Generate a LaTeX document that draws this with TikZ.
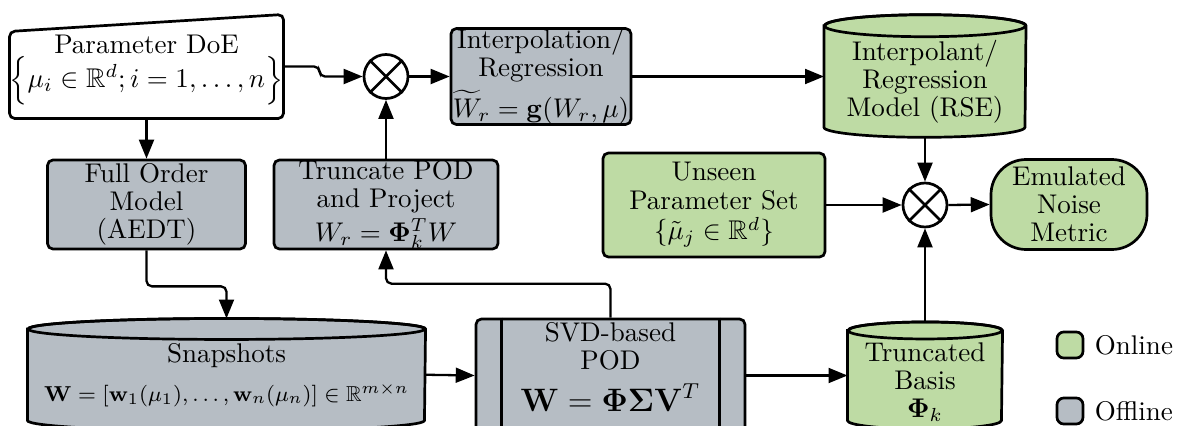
\documentclass[tikz,border=0pt]{standalone}
\usepackage{amsmath,amssymb}
\usetikzlibrary{arrows.meta,calc}
\definecolor{onl}{RGB}{190,219,164}
\definecolor{offl}{RGB}{182,189,196}
\newcommand\pxl{0.37pt}
\begin{document}
\begin{tikzpicture}[x=0.37pt,y=-0.37pt,
  every node/.style={font=\fontsize{10}{10.4}\selectfont},
  boxs/.style={draw, line width=1pt, rounded corners=2pt, inner sep=0pt, align=center},
  offbox/.style={boxs, fill=offl},
  onbox/.style={boxs, fill=onl},
  arr/.style={-{Triangle[length=7pt,width=5.5pt]}, line width=0.85pt, rounded corners=2pt},
  xnode/.style={draw, circle, line width=1pt, minimum size=44*\pxl, inner sep=0pt, fill=white},
  cyl/.style={line width=1pt},
  txt/.style={align=center, inner sep=0pt}
]
\useasboundingbox (0,0) rectangle (1177,426);

% Parameter DoE (manual input shape)
\node[inner sep=0pt, minimum width=273*\pxl, minimum height=103*\pxl] (doe) at (146.5,66.5) {};
\draw[line width=1pt, rounded corners=2pt, fill=white] (doe.south west) -- ($(doe.north west)+(0,17)$) -- (doe.north east) -- (doe.south east) -- cycle;
\node[txt] (doet) at (146.5,70) {Parameter DoE\\$\Bigl\{\mu_i\in\mathbb{R}^d; i=1,\ldots,n\Bigr\}$};

% Offline boxes
\node[offbox, minimum width=198*\pxl, minimum height=89*\pxl] (fom) at (146.5,204.5) {Full Order\\Model\\(AEDT)};
\node[offbox, minimum width=224*\pxl, minimum height=89*\pxl] (trunc) at (386,204.5) {Truncate POD\\and Project\\[1pt]$W_r=\mathbf{\Phi}_k^T W$};
\node[offbox, minimum width=180*\pxl, minimum height=96*\pxl] (interp) at (541,76.5) {Interpolation/\\Regression\\[2pt]$\widetilde{W}_r=\mathbf{g}(W_r,\mu)$};

% cross 1
\node[xnode] (c1) at (386,76.5) {};
\draw[line width=1pt] (c1.north west) -- (c1.south east) (c1.north east) -- (c1.south west);

% Interpolant cylinder
\node[inner sep=0pt, minimum width=201*\pxl, minimum height=100.5*\pxl] (icyl) at (925,76.5) {};
\draw[cyl, fill=onl] (icyl.north west) -- (icyl.south west) arc[start angle=180, end angle=0, x radius=100.5, y radius=10] -- (icyl.north east) arc[start angle=360, end angle=180, x radius=100.5, y radius=11] -- cycle;
\draw[cyl] (icyl.north) ellipse [x radius=100.5, y radius=11];
\node[txt] (icylt) at (925,82) {Interpolant/\\Regression\\Model (RSE)};
\coordinate (icylbot) at ($(icyl.south)+(0,10)$);

% Online boxes
\node[onbox, minimum width=222*\pxl, minimum height=104*\pxl] (unseen) at (714,205) {Unseen\\Parameter Set\\[1pt]$\{\tilde{\mu}_j\in\mathbb{R}^d\}$};
\node[onbox, rounded corners=13pt, minimum width=156*\pxl, minimum height=90*\pxl] (emu) at (1069,204.5) {Emulated\\Noise\\Metric};

% cross 2
\node[xnode] (c2) at (925,205) {};
\draw[line width=1pt] (c2.north west) -- (c2.south east) (c2.north east) -- (c2.south west);

% Snapshots cylinder
\node[inner sep=0pt, minimum width=397*\pxl, minimum height=90.5*\pxl] (snap) at (226.5,374.75) {};
\draw[cyl, fill=offl] (snap.north west) -- (snap.south west) arc[start angle=180, end angle=0, x radius=198.5, y radius=10.5] -- (snap.north east) arc[start angle=360, end angle=180, x radius=198.5, y radius=10.5] -- cycle;
\draw[cyl] (snap.north) ellipse [x radius=198.5, y radius=10.5];
\node[txt] (snapt) at (226.5,375) {Snapshots\\[4pt]{\footnotesize$\mathbf{W}=[\mathbf{w}_1(\mu_1),\ldots,\mathbf{w}_n(\mu_n)]\in\mathbb{R}^{m\times n}$}};
\coordinate (snaptop) at ($(snap.north)+(0,-10.5)$);

% SVD-based POD (predefined process)
\node[offbox, minimum width=269*\pxl, minimum height=113*\pxl] (svd) at (610.5,375.5) {};
\draw[line width=1pt] ($(svd.north west)+(27,0)$) -- ($(svd.south west)+(27,0)$) ($(svd.north east)+(-27,0)$) -- ($(svd.south east)+(-27,0)$);
\node[txt] (svdt) at (610.5,367) {SVD-based\\POD\\[4pt]{\large $\mathbf{W}=\mathbf{\Phi\Sigma V}^T$}};

% Truncated Basis cylinder
\node[inner sep=0pt, minimum width=154*\pxl, minimum height=89*\pxl] (tb) at (925,375.5) {};
\draw[cyl, fill=onl] (tb.north west) -- (tb.south west) arc[start angle=180, end angle=0, x radius=77, y radius=8.5] -- (tb.north east) arc[start angle=360, end angle=180, x radius=77, y radius=8.5] -- cycle;
\draw[cyl] (tb.north) ellipse [x radius=77, y radius=8.5];
\node[txt] (tbt) at (925,382) {Truncated\\Basis\\$\mathbf{\Phi}_k$};
\coordinate (tbtop) at ($(tb.north)+(0,-8.5)$);

% Legend
\node[onbox, rounded corners=2.5pt, minimum size=26*\pxl] (lon) at (1070,345) {};
\node[anchor=west, inner sep=0pt] (lont) at ($(lon.east)+(10,0)$) {Online};
\node[offbox, rounded corners=2.5pt, minimum size=26*\pxl] (loff) at (1070,411) {};
\node[anchor=west, inner sep=0pt] (lofft) at ($(loff.east)+(10,0)$) {Offline};

% Connectors
\draw[arr] (doe.south) -- (fom.north);
\draw[arr] (fom.south) -- ++(0,36) -| (snaptop);
\draw[arr] (snap.east) -- (svd.west);
\draw[arr] (svd.north) -- ++(0,-34) -| (trunc.south);
\draw[arr] (trunc.north) -- (c1.south);
\draw[arr] (doe.east) -- ++(36,0) |- (c1.west);
\draw[arr] (c1.east) -- (interp.west);
\draw[arr] (interp.east) -- (icyl.west);
\draw[arr] (icylbot) -- (c2.north);
\draw[arr] (unseen.east) -- (c2.west);
\draw[arr] (c2.east) -- (emu.west);
\draw[arr] (svd.east) -- (tb.west);
\draw[arr] (tbtop) -- (c2.south);
\end{tikzpicture}
\end{document}
